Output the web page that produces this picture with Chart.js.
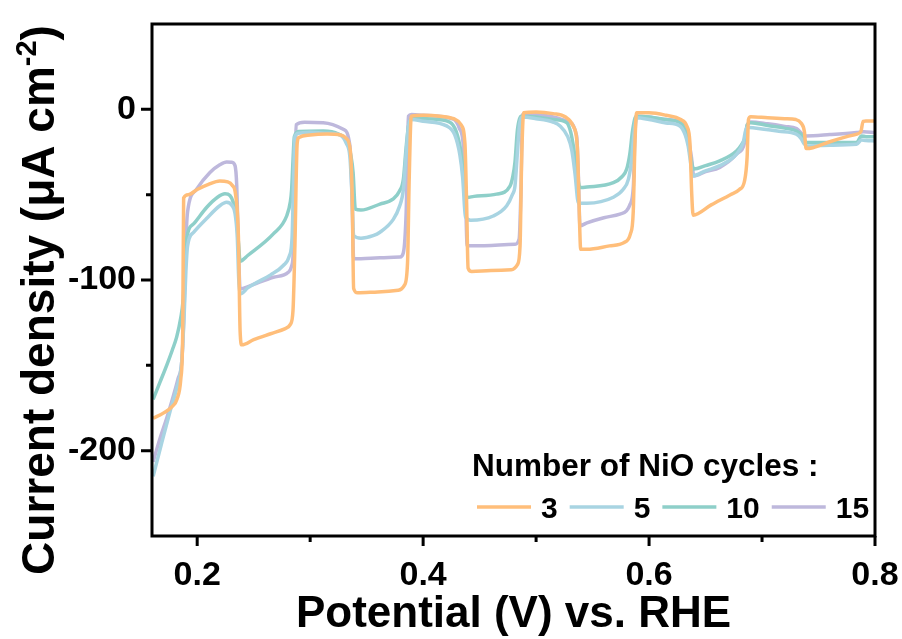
<!DOCTYPE html>
<html>
<head>
<meta charset="utf-8">
<script src="https://cdn.jsdelivr.net/npm/chart.js@4.4.1/dist/chart.umd.min.js"></script>
<style>
    html, body { margin: 0; padding: 0; background: #ffffff; }
    #wrap { width: 902px; height: 639px; }
</style>
</head>
<body>
<div id="wrap"><canvas id="chart" width="902" height="639"></canvas></div>
<script>
// Chopped-light LSV
const cycles = ['3', '5', '10', '15'];
const colors = ['#FFBE7A', '#A8D4E2', '#8ECFC9', '#BEB8DC'];

const xMajor = [0.2, 0.4, 0.6, 0.8];
const xMinor = [0.3, 0.5, 0.7];
const yMajor = [0, -100, -200];
const yMinor = [-50, -150];

// 3 cycles
const potential3 = [0.161, 0.170, 0.178, 0.182, 0.1855, 0.1872, 0.1880, 0.192, 0.200, 0.210, 0.220, 0.227, 0.231, 0.234, 0.2365, 0.2380, 0.2395, 0.250, 0.265, 0.278, 0.2825, 0.2848, 0.2865, 0.2885, 0.2900, 0.300, 0.315, 0.327, 0.332, 0.3355, 0.3372, 0.3385, 0.342, 0.360, 0.378, 0.3835, 0.3862, 0.3877, 0.3895, 0.400, 0.415, 0.427, 0.4335, 0.437, 0.4385, 0.4398, 0.443, 0.460, 0.478, 0.4835, 0.4858, 0.4872, 0.4890, 0.500, 0.515, 0.526, 0.533, 0.5365, 0.538, 0.5395, 0.545, 0.565, 0.578, 0.5835, 0.586, 0.5875, 0.589, 0.600, 0.615, 0.628, 0.6335, 0.6362, 0.6378, 0.639, 0.655, 0.672, 0.680, 0.6845, 0.6868, 0.688, 0.690, 0.705, 0.720, 0.730, 0.7345, 0.7375, 0.7390, 0.745, 0.760, 0.775, 0.784, 0.7875, 0.7895, 0.792, 0.800];
const current3 = [-181, -178, -174, -170, -158, -130, -52, -50, -47, -44, -42, -42.5, -44.5, -50, -75, -130, -138, -135, -131.5, -128.5, -126, -118, -80, -20, -16.5, -15, -14.5, -15, -17, -24, -50, -105, -107.5, -107, -106, -103, -90, -40, -4, -3.5, -4, -5.5, -9, -20, -55, -93, -95, -94.5, -94, -91, -80, -30, -2, -1.5, -2.5, -4.5, -10, -22, -55, -82, -82, -80, -78, -73, -60, -20, -2, -2, -3.5, -6, -10, -20, -50, -62, -56, -50, -47, -42, -28, -6, -4.3, -5, -5.5, -6, -8, -13, -23, -22.5, -19, -16, -14.5, -13, -7, -6.8, -6.8];

// 5 cycles
const potential5 = [0.161, 0.168, 0.176, 0.182, 0.1863, 0.1885, 0.1900, 0.1915, 0.197, 0.2083, 0.220, 0.226, 0.231, 0.2335, 0.2355, 0.2368, 0.2385, 0.245, 0.2526, 0.265, 0.2762, 0.2815, 0.2840, 0.2852, 0.2865, 0.290, 0.300, 0.315, 0.3264, 0.3320, 0.3352, 0.3370, 0.3385, 0.345, 0.3557, 0.3618, 0.3736, 0.379, 0.3825, 0.3850, 0.3870, 0.3898, 0.400, 0.4208, 0.428, 0.4326, 0.435, 0.4375, 0.442, 0.4621, 0.474, 0.4790, 0.4813, 0.4835, 0.4855, 0.4880, 0.500, 0.515, 0.5212, 0.528, 0.5316, 0.5345, 0.5375, 0.545, 0.5684, 0.577, 0.5817, 0.5845, 0.5865, 0.5890, 0.600, 0.615, 0.6272, 0.6320, 0.6346, 0.6365, 0.6385, 0.650, 0.6626, 0.6774, 0.6833, 0.6862, 0.6885, 0.700, 0.715, 0.7305, 0.7345, 0.737, 0.740, 0.760, 0.7837, 0.788, 0.792, 0.800];
const current5 = [-215, -197, -177, -163, -148, -120, -95, -80, -72, -64, -56.5, -54.5, -56.5, -61, -75, -100, -108, -104.5, -101.5, -97, -91.5, -86, -75, -45, -16, -14, -13.5, -14, -15, -20, -28, -50, -74, -75.5, -74, -72, -64.5, -57, -47, -25, -10, -6, -7, -9.7, -15, -27, -40, -63, -65, -62.5, -56.5, -50, -45, -25, -8, -4.5, -5.5, -7.5, -9.7, -16, -24, -38, -55, -55, -51.5, -47, -41, -30, -15, -5, -6, -8, -9.7, -15, -21.5, -30, -39, -36, -33, -26.3, -19.5, -11, -10.7, -11.5, -12.8, -14.6, -17, -20, -21.5, -21, -20.5, -18, -18.3, -18.5];

// 10 cycles
const potential10 = [0.161, 0.167, 0.173, 0.178, 0.1818, 0.1855, 0.1875, 0.1890, 0.1907, 0.197, 0.2083, 0.218, 0.2246, 0.229, 0.232, 0.2345, 0.2365, 0.2380, 0.245, 0.2674, 0.2792, 0.2825, 0.2836, 0.2848, 0.2860, 0.290, 0.3116, 0.325, 0.3323, 0.3360, 0.3380, 0.3400, 0.345, 0.3618, 0.3736, 0.379, 0.3825, 0.3850, 0.3870, 0.3898, 0.400, 0.4208, 0.428, 0.4326, 0.4355, 0.4390, 0.445, 0.465, 0.4769, 0.4795, 0.4813, 0.4835, 0.4865, 0.500, 0.515, 0.527, 0.5305, 0.533, 0.5355, 0.5388, 0.545, 0.5684, 0.576, 0.5802, 0.583, 0.5855, 0.5885, 0.600, 0.615, 0.6272, 0.633, 0.6361, 0.6396, 0.650, 0.6626, 0.6774, 0.6820, 0.685, 0.6870, 0.690, 0.705, 0.720, 0.7305, 0.735, 0.7375, 0.740, 0.760, 0.7837, 0.788, 0.792, 0.800];
const current10 = [-170, -160, -150, -141, -133.5, -122, -112, -95, -76, -67, -57.5, -51.5, -49.5, -50.5, -54.5, -62, -78, -89, -85.5, -73, -62.5, -54, -47, -30, -16, -13, -12.7, -14.5, -18.5, -27, -37, -58.5, -59, -55.5, -52.5, -48, -41, -22, -10, -5.4, -5.5, -6.8, -11, -21.5, -35, -51.6, -51, -49.7, -45, -39, -31, -12, -4, -4.5, -6, -7.8, -13, -21.5, -33, -45.8, -45.5, -43, -39.5, -35, -26, -12, -4, -4.5, -6, -7.8, -13, -25.3, -35, -33, -30.2, -24.4, -20.5, -16.6, -9, -7.8, -9.5, -11, -12.7, -15, -18, -19.5, -19.5, -19.5, -15.6, -16, -16];

// 15 cycles
const potential15 = [0.161, 0.167, 0.173, 0.178, 0.1830, 0.1863, 0.1880, 0.1892, 0.1905, 0.1915, 0.1995, 0.2113, 0.220, 0.2261, 0.2305, 0.2335, 0.2350, 0.2365, 0.2380, 0.2467, 0.2674, 0.2806, 0.2835, 0.2850, 0.2862, 0.2876, 0.295, 0.3116, 0.3293, 0.3352, 0.3370, 0.3385, 0.345, 0.3618, 0.3795, 0.3825, 0.3850, 0.3870, 0.3898, 0.400, 0.4267, 0.4320, 0.4356, 0.4375, 0.4390, 0.445, 0.4813, 0.4850, 0.4865, 0.4880, 0.500, 0.515, 0.527, 0.5359, 0.5375, 0.5388, 0.545, 0.560, 0.5742, 0.580, 0.583, 0.5861, 0.5875, 0.5890, 0.600, 0.615, 0.6272, 0.6346, 0.6375, 0.6396, 0.650, 0.6626, 0.6774, 0.685, 0.6870, 0.690, 0.705, 0.720, 0.7305, 0.736, 0.7387, 0.760, 0.7837, 0.790, 0.800];
const current15 = [-206.5, -193, -181, -170, -158, -148, -125, -99, -70, -60, -46.8, -37, -32.5, -30.8, -31, -33, -44.5, -80, -105.3, -103.4, -98.4, -95.5, -92, -84, -45, -9, -7.5, -7.8, -11.7, -21.4, -50, -87.5, -87.5, -87, -86.5, -84, -60, -4, -3, -3.5, -5.8, -11, -21.4, -50, -80, -80, -79, -76, -50, -3, -3, -4.5, -6.8, -15.6, -40, -68.2, -66.5, -63.5, -61.4, -59.5, -56, -45, -15, -4, -4.5, -6, -6.8, -17.5, -28, -39, -36.5, -34, -26.3, -18.5, -9, -7.4, -8.5, -10, -11.3, -14.6, -15.6, -14.8, -13.6, -13.1, -13.6];

const potentials = [potential3, potential5, potential10, potential15];
const currents = [current3, current5, current10, current15];

const FONT = '"Liberation Sans", Arial, sans-serif';

function toPoints(xs, ys) {
    return xs.map((x, i) => ({ x: x, y: ys[i] }));
}

// Box, tick marks, axis titles and legend drawn by hand
const framePlugin = {
    id: 'frame',
    afterDraw(chart) {
        const ctx = chart.ctx;
        const area = chart.chartArea;
        const xs = chart.scales.x;
        const ys = chart.scales.y;
        ctx.save();
        ctx.strokeStyle = '#000';
        ctx.lineWidth = 3;
        ctx.strokeRect(area.left, area.top, area.right - area.left, area.bottom - area.top);

        // tick marks
        ctx.beginPath();
        xMajor.forEach(v => { const p = xs.getPixelForValue(v); ctx.moveTo(p, area.bottom); ctx.lineTo(p, area.bottom + 10); });
        xMinor.forEach(v => { const p = xs.getPixelForValue(v); ctx.moveTo(p, area.bottom); ctx.lineTo(p, area.bottom + 6); });
        yMajor.forEach(v => { const p = ys.getPixelForValue(v); ctx.moveTo(area.left, p); ctx.lineTo(area.left - 11, p); });
        yMinor.forEach(v => { const p = ys.getPixelForValue(v); ctx.moveTo(area.left, p); ctx.lineTo(area.left - 6, p); });
        ctx.stroke();

        // x title
        ctx.fillStyle = '#000';
        ctx.font = 'bold 44px ' + FONT;
        ctx.textAlign = 'center';
        ctx.textBaseline = 'alphabetic';
        ctx.fillText('Potential (V) vs. RHE', (area.left + area.right) / 2, 627);

        // y title with superscript
        const main = 'Current density (\u03bcA cm';
        const sup = '-2';
        const tail = ')';
        ctx.font = 'bold 46px ' + FONT;
        const w1 = ctx.measureText(main).width;
        const w3 = ctx.measureText(tail).width;
        ctx.font = 'bold 29px ' + FONT;
        const w2 = ctx.measureText(sup).width;
        const total = w1 + w2 + w3;
        ctx.translate(54, 300);
        ctx.rotate(-Math.PI / 2);
        ctx.textAlign = 'left';
        ctx.font = 'bold 46px ' + FONT;
        ctx.fillText(main, -total / 2, 0);
        ctx.font = 'bold 29px ' + FONT;
        ctx.fillText(sup, -total / 2 + w1, -18);
        ctx.font = 'bold 46px ' + FONT;
        ctx.fillText(tail, -total / 2 + w1 + w2, 0);
        ctx.restore();

        // legend
        ctx.save();
        ctx.fillStyle = '#000';
        ctx.font = 'bold 31.5px ' + FONT;
        ctx.textAlign = 'left';
        ctx.textBaseline = 'alphabetic';
        ctx.fillText('Number of NiO cycles :', 472, 476);
        ctx.font = 'bold 30px ' + FONT;
        let lx = 477;
        const ly = 507;
        chart.data.datasets.forEach(ds => {
            ctx.strokeStyle = ds.borderColor;
            ctx.lineWidth = 3.5;
            ctx.beginPath();
            ctx.moveTo(lx, ly);
            ctx.lineTo(lx + 54, ly);
            ctx.stroke();
            lx += 64;
            ctx.fillText(ds.label, lx, 518);
            lx += ctx.measureText(ds.label).width + 12;
        });
        ctx.restore();
    }
};

// drop the extra room Chart.js keeps for overhanging labels
function noLabelPadding(scale) {
    scale.paddingTop = 0;
    scale.paddingBottom = 0;
    scale.paddingLeft = 0;
    scale.paddingRight = 0;
}

const chart = new Chart(document.getElementById('chart'), {
    type: 'line',
    data: {
        datasets: cycles.map((c, i) => ({
            label: c,
            data: toPoints(potentials[i], currents[i]),
            borderColor: colors[i],
            borderWidth: 3.5,
            pointRadius: 0,
            fill: false,
            cubicInterpolationMode: 'monotone'
        }))
    },
    options: {
        responsive: false,
        animation: false,
        devicePixelRatio: 1,
        layout: { padding: { top: 24, right: 27, left: 0, bottom: 0 } },
        plugins: {
            legend: { display: false },
            tooltip: { enabled: false }
        },
        scales: {
            x: {
                type: 'linear',
                min: 0.16,
                max: 0.8,
                afterBuildTicks: (scale) => { scale.ticks = xMajor.map(v => ({ value: v })); },
                afterFit: (scale) => { scale.height = 639 - 536; noLabelPadding(scale); },
                grid: { display: false, drawTicks: false },
                border: { display: false },
                ticks: {
                    autoSkip: false,
                    maxRotation: 0,
                    padding: 19,
                    color: '#000',
                    font: { family: FONT, size: 34, weight: 'bold' },
                    callback: (v) => v.toFixed(1)
                }
            },
            y: {
                type: 'linear',
                min: -250,
                max: 50,
                afterBuildTicks: (scale) => { scale.ticks = yMajor.map(v => ({ value: v })); },
                afterFit: (scale) => { scale.width = 152; noLabelPadding(scale); },
                grid: { display: false, drawTicks: false },
                border: { display: false },
                ticks: {
                    padding: 16,
                    color: '#000',
                    font: { family: FONT, size: 34, weight: 'bold' },
                    callback: (v) => String(v)
                }
            }
        }
    },
    plugins: [framePlugin]
});
</script>
</body>
</html>
